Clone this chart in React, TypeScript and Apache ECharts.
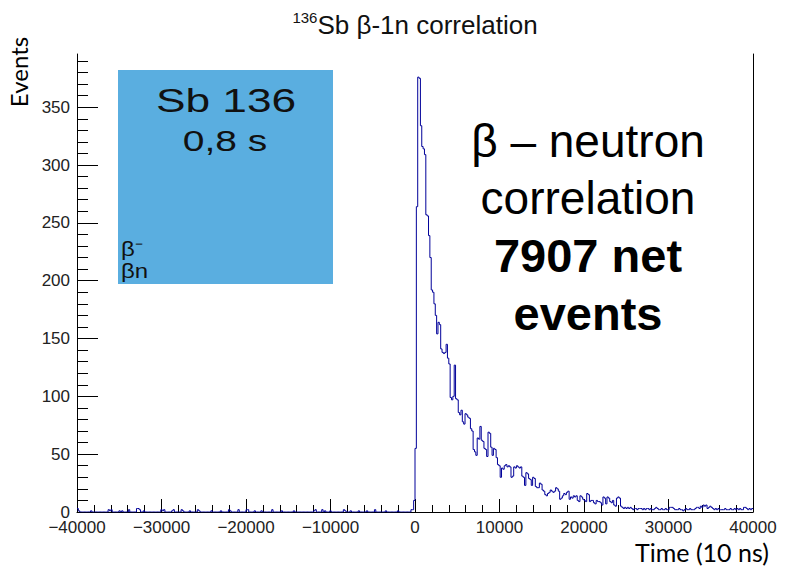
import React, { useEffect, useRef } from "react";
import * as echarts from "echarts";

// ---- axis ranges / ticks ----
const X_MIN = -40000;
const X_MAX = 40000;
const X_INTERVAL = 10000;
const BIN_WIDTH = 160;
const Y_MAX = 396;
const yTickValues = [0, 50, 100, 150, 200, 250, 300, 350];

// ---- histogram counts (bins of 160 × 10 ns) ----
// bins from -40000 to 0
const negativeCounts = [
  3, 1, 0, 0, 0, 0, 0, 0, 0, 0, 1, 0, 0, 0, 0, 0, 0, 0, 0, 0, 0, 0, 0, 2, 1,
  2, 0, 0, 0, 0, 0, 1, 0, 1, 0, 0, 0, 0, 2, 0, 0, 0, 0, 0, 3, 3, 2, 0, 0, 1,
  0, 0, 0, 0, 0, 0, 0, 0, 0, 0, 0, 0, 2, 1, 2, 0, 0, 0, 0, 0, 1, 2, 0, 0, 0,
  0, 0, 2, 1, 0, 0, 0, 0, 1, 0, 0, 0, 0, 0, 2, 1, 0, 0, 0, 0, 0, 0, 0, 0, 1,
  0, 0, 0, 0, 0, 0, 1, 0, 0, 0, 0, 0, 2, 1, 0, 0, 0, 0, 0, 2, 0, 0, 0, 0, 0,
  2, 2, 0, 0, 0, 0, 1, 0, 0, 0, 0, 1, 0, 0, 0, 0, 0, 0, 0, 2, 0, 0, 0, 0, 0,
  0, 1, 0, 0, 0, 0, 0, 0, 0, 0, 1, 0, 0, 0, 0, 0, 0, 0, 0, 0, 0, 0, 0, 0, 0,
  1, 2, 0, 0, 0, 0, 2, 0, 1, 0, 0, 0, 1, 0, 0, 0, 0, 0, 0, 0, 0, 0, 2, 1, 0,
  0, 0, 1, 0, 0, 0, 0, 0, 1, 0, 0, 0, 0, 0, 1, 0, 0, 0, 0, 0, 2, 0, 0, 0, 0,
  0, 0, 0, 1, 0, 0, 0, 0, 0, 0, 0, 0, 1, 0, 0, 0, 0, 0, 0, 0, 0, 0, 2, 2, 10,
];
// bins from 0 to 40000
const positiveCounts = [
  55, 264, 376, 375, 334, 316, 314, 309, 257, 256,
  239, 220, 192, 190, 180, 170, 154, 164, 162, 141,
  138, 137, 138, 145, 133, 128, 99, 97, 100, 127,
  98, 97, 86, 84, 88, 78, 76, 85, 84, 82,
  81, 72, 70, 54, 52, 49, 64, 63, 74, 62,
  61, 55, 54, 48, 69, 68, 56, 49, 55, 54,
  47, 41, 40, 30, 38, 37, 40, 41, 39, 40,
  39, 30, 31, 39, 38, 40, 39, 38, 39, 31,
  30, 23, 34, 33, 29, 28, 23, 30, 29, 22,
  21, 21, 25, 24, 19, 18, 15, 14, 16, 17,
  19, 18, 17, 18, 21, 20, 18, 11, 12, 14,
  16, 15, 17, 18, 11, 13, 12, 14, 13, 14,
  10, 9, 14, 13, 11, 10, 9, 16, 15, 9,
  10, 10, 8, 7, 10, 9, 9, 8, 6, 13,
  12, 7, 13, 12, 9, 8, 10, 6, 5, 12,
  13, 12, 5, 4, 3, 4, 3, 4, 3, 4,
  3, 2, 3, 3, 2, 3, 3, 3, 2, 3,
  2, 3, 3, 2, 3, 2, 2, 3, 4, 3,
  2, 2, 3, 2, 2, 3, 2, 2, 4, 4,
  4, 3, 2, 2, 2, 3, 2, 2, 1, 2,
  3, 2, 2, 3, 2, 2, 2, 3, 4, 4,
  3, 5, 4, 6, 5, 6, 3, 4, 5, 4,
  3, 2, 3, 2, 3, 2, 2, 2, 2, 3,
  2, 2, 2, 3, 2, 2, 3, 2, 3, 2,
  3, 2, 2, 4, 4, 3, 2, 3, 2, 3,
];

// ---- texts ----
const titleSup = "136";
const titleMain = "Sb β-1n correlation";
const yTitle = "Events";
const xTitle = "Time (10 ns)";
const noteLines = ["β – neutron", "correlation", "7907 net", "events"];
const nuclideName = "Sb 136";
const halfLife = "0,8 s";
const decayModes = ["β⁻", "βn"];

const fmtX = (v: number) => (v < 0 ? "\u2212" + Math.abs(v) : String(v));

export default function App() {
  const ref = useRef<HTMLDivElement>(null);
  useEffect(() => {
    if (!ref.current) return;
    const chart = echarts.init(ref.current, null, { renderer: "svg" });
    const counts = [...negativeCounts, ...positiveCounts];
    const stepData: number[][] = [];
    counts.forEach((c, i) => {
      const x0 = X_MIN + i * BIN_WIDTH;
      stepData.push([x0, c], [x0 + BIN_WIDTH, c]);
    });
    const labelFont = { color: "#222", fontFamily: "Liberation Sans, Arial, sans-serif", fontSize: 17 };
    chart.setOption({
      animation: false,
      backgroundColor: "#fff",
      grid: { left: 77, right: 32, top: 54, bottom: 58, containLabel: false },
      xAxis: {
        type: "value",
        min: X_MIN,
        max: X_MAX,
        interval: X_INTERVAL,
        axisLine: { show: true, onZero: false, lineStyle: { color: "#000", width: 1 } },
        axisTick: { show: true, inside: true, length: 13, lineStyle: { color: "#000", width: 1 } },
        minorTick: { show: true, splitNumber: 5, length: 7, lineStyle: { color: "#000", width: 1 } },
        axisLabel: { ...labelFont, margin: 7, formatter: fmtX },
        splitLine: { show: false },
      },
      yAxis: [
        {
          type: "value",
          min: 0,
          max: Y_MAX,
          interval: 50,
          axisLine: { show: true, onZero: false, lineStyle: { color: "#000", width: 1 } },
          axisTick: { show: true, inside: true, length: 21, customValues: yTickValues, lineStyle: { color: "#000", width: 1 } },
          minorTick: { show: true, splitNumber: 5, length: 11, lineStyle: { color: "#000", width: 1 } },
          axisLabel: { ...labelFont, margin: 7, customValues: yTickValues },
          splitLine: { show: false },
        },
        {
          type: "value",
          position: "right",
          min: 0,
          max: Y_MAX,
          axisLine: { show: true, onZero: false, lineStyle: { color: "#000", width: 1 } },
          axisTick: { show: false },
          axisLabel: { show: false },
          splitLine: { show: false },
        },
      ],
      series: [
        {
          type: "line",
          data: stepData,
          showSymbol: false,
          symbol: "none",
          silent: true,
          z: 3,
          lineStyle: { color: "#000099", width: 1 },
        },
      ],
      graphic: [
        {
          type: "text",
          x: 415,
          y: 25,
          style: {
            text: `{s|${titleSup}}{m|${titleMain}}`,
            align: "center",
            verticalAlign: "middle",
            rich: {
              s: { fontSize: 15, fontFamily: "Liberation Sans", fill: "#111", verticalAlign: "top", lineHeight: 30 },
              m: { fontSize: 26, fontFamily: "Liberation Sans", fill: "#111", lineHeight: 30 },
            },
          },
        },
        {
          type: "text",
          x: 18,
          y: 72,
          rotation: Math.PI / 2,
          style: { text: yTitle, fontSize: 24, fontFamily: "Lato", fill: "#000", align: "center", verticalAlign: "middle" },
        },
        {
          type: "text",
          x: 702,
          y: 552,
          style: { text: xTitle, fontSize: 25, fontFamily: "Lato", fill: "#000", align: "center", verticalAlign: "middle" },
        },
        {
          type: "rect",
          shape: { x: 118, y: 70, width: 215, height: 214 },
          style: { fill: "#5aaee0" },
        },
        {
          type: "text",
          x: 226,
          y: 100,
          scaleX: 1.3,
          style: { text: nuclideName, fontSize: 34, fontFamily: "Liberation Sans", fill: "#111", align: "center", verticalAlign: "middle" },
        },
        {
          type: "text",
          x: 225,
          y: 141,
          scaleX: 1.3,
          style: { text: halfLife, fontSize: 30, fontFamily: "Liberation Sans", fill: "#111", align: "center", verticalAlign: "middle" },
        },
        {
          type: "text",
          x: 121,
          y: 249,
          scaleX: 1.2,
          style: { text: decayModes[0], fontSize: 20, fontFamily: "Liberation Sans", fill: "#111", align: "left", verticalAlign: "middle" },
        },
        {
          type: "text",
          x: 121,
          y: 271,
          scaleX: 1.2,
          style: { text: decayModes[1], fontSize: 20, fontFamily: "Liberation Sans", fill: "#111", align: "left", verticalAlign: "middle" },
        },
        {
          type: "text",
          x: 588,
          y: 112,
          style: {
            text: `{r|${noteLines[0]}}\n{r|${noteLines[1]}}\n{b|${noteLines[2]}}\n{b|${noteLines[3]}}`,
            align: "center",
            verticalAlign: "top",
            rich: {
              r: { fontSize: 46, fontFamily: "Liberation Sans", fill: "#000", lineHeight: 57.5 },
              b: { fontSize: 47, fontWeight: "bold", fontFamily: "Liberation Sans", fill: "#000", lineHeight: 57.5 },
            },
          },
        },
      ],
    });
    return () => chart.dispose();
  }, []);
  return <div ref={ref} style={{ position: "fixed", left: 0, top: 0, width: 785, height: 570 }} />;
}
